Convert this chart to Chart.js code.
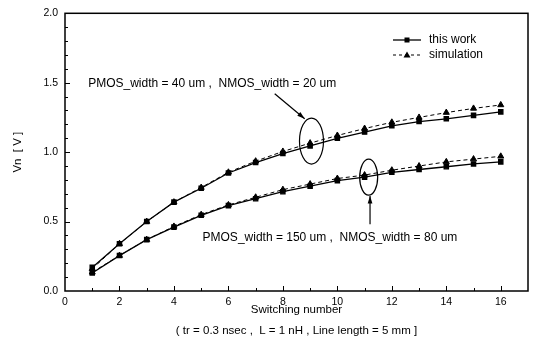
<!DOCTYPE html>
<html>
<head>
<meta charset="utf-8">
<script src="https://cdn.jsdelivr.net/npm/chart.js@4/dist/chart.umd.min.js"></script>
<style>
  html, body { margin: 0; padding: 0; background: #fff; }
  #wrap { width: 538px; height: 350px; }
</style>
</head>
<body>
<div id="wrap"><canvas id="vn-chart" width="538" height="350"></canvas></div>
<script>
// switching number (x)
const switchingNumbers = [1, 2, 3, 4, 5, 6, 7, 8, 9, 10, 11, 12, 13, 14, 15, 16];

// PMOS 40 um / NMOS 20 um
const workUpper = [0.17, 0.34, 0.50, 0.64, 0.74, 0.85, 0.925, 0.99, 1.045, 1.10, 1.145, 1.19, 1.22, 1.24, 1.265, 1.29];
const simUpper  = [0.16, 0.34, 0.50, 0.64, 0.745, 0.855, 0.935, 1.005, 1.065, 1.12, 1.17, 1.215, 1.25, 1.285, 1.315, 1.34];

// PMOS 150 um / NMOS 80 um
const workLower = [0.13, 0.255, 0.37, 0.46, 0.545, 0.615, 0.665, 0.715, 0.755, 0.795, 0.82, 0.855, 0.875, 0.895, 0.915, 0.93];
const simLower  = [0.135, 0.255, 0.37, 0.465, 0.55, 0.62, 0.675, 0.73, 0.77, 0.81, 0.835, 0.87, 0.9, 0.93, 0.95, 0.97];

const xTicks = [0, 2, 4, 6, 8, 10, 12, 14, 16];
const yTicks = [0.0, 0.5, 1.0, 1.5, 2.0];

const FONT = '"Liberation Sans", Arial, sans-serif';

function toPoints(ys) {
  return switchingNumbers.map((x, i) => ({ x: x, y: ys[i] }));
}

function workSet(ys) {
  return {
    label: 'this work',
    data: toPoints(ys),
    borderColor: '#000',
    backgroundColor: '#000',
    borderWidth: 1.3,
    pointStyle: 'rect',
    pointRadius: 3,
    showLine: true,
    tension: 0,
  };
}

function simSet(ys) {
  return {
    label: 'simulation',
    data: toPoints(ys),
    borderColor: '#000',
    backgroundColor: '#000',
    borderWidth: 1,
    borderDash: [4, 3],
    pointStyle: 'triangle',
    pointRadius: 3.5,
    showLine: true,
    tension: 0,
  };
}

// frame, inward ticks, legend and annotations
const decorPlugin = {
  id: 'decor',
  afterDraw(chart) {
    const ctx = chart.ctx;
    const area = chart.chartArea;
    const xs = chart.scales.x;
    const ys = chart.scales.y;

    ctx.save();
    ctx.strokeStyle = '#000';
    ctx.fillStyle = '#000';

    // box
    ctx.lineWidth = 1.5;
    ctx.strokeRect(area.left, area.top, area.right - area.left, area.bottom - area.top);

    // x ticks (pointing up)
    ctx.lineWidth = 1;
    for (let v = 1; v <= 16; v++) {
      const px = Math.round(xs.getPixelForValue(v)) + 0.5;
      const len = v % 2 === 0 ? 5 : 3;
      ctx.beginPath();
      ctx.moveTo(px, area.bottom);
      ctx.lineTo(px, area.bottom - len);
      ctx.stroke();
    }
    // y ticks (pointing right)
    for (let k = 1; k < 20; k++) {
      const py = Math.round(ys.getPixelForValue(k / 10)) + 0.5;
      const len = k % 5 === 0 ? 5 : 3;
      ctx.beginPath();
      ctx.moveTo(area.left, py);
      ctx.lineTo(area.left + len, py);
      ctx.stroke();
    }

    // legend
    ctx.font = '12px ' + FONT;
    ctx.textBaseline = 'middle';
    const lx = 393, lw = 28;
    let ly = 40;
    ctx.lineWidth = 1.3;
    ctx.setLineDash([]);
    ctx.beginPath();
    ctx.moveTo(lx, ly);
    ctx.lineTo(lx + lw, ly);
    ctx.stroke();
    ctx.fillRect(lx + lw / 2 - 2.5, ly - 2.5, 5, 5);
    ctx.fillText('this work', lx + lw + 8, ly);

    ly = 55;
    ctx.lineWidth = 1;
    ctx.setLineDash([3, 3]);
    ctx.beginPath();
    ctx.moveTo(lx, ly);
    ctx.lineTo(lx + lw, ly);
    ctx.stroke();
    ctx.setLineDash([]);
    ctx.beginPath();
    ctx.moveTo(lx + lw / 2, ly - 3.5);
    ctx.lineTo(lx + lw / 2 + 3.5, ly + 2.5);
    ctx.lineTo(lx + lw / 2 - 3.5, ly + 2.5);
    ctx.closePath();
    ctx.fill();
    ctx.fillText('simulation', lx + lw + 8, ly);

    // annotation texts
    ctx.textAlign = 'left';
    ctx.fillText('PMOS_width = 40 um ,  NMOS_width = 20 um', xs.getPixelForValue(0.85), ys.getPixelForValue(1.495));
    ctx.fillText('PMOS_width = 150 um ,  NMOS_width = 80 um', xs.getPixelForValue(5.05), ys.getPixelForValue(0.385));

    // ellipses
    ctx.lineWidth = 1.2;
    ctx.beginPath();
    ctx.ellipse(xs.getPixelForValue(9.05), ys.getPixelForValue(1.08), 12, 23, 0, 0, Math.PI * 2);
    ctx.stroke();
    ctx.beginPath();
    ctx.ellipse(xs.getPixelForValue(11.15), ys.getPixelForValue(0.82), 9, 18, 0, 0, Math.PI * 2);
    ctx.stroke();

    // arrows
    function arrow(x1, y1, x2, y2) {
      const a = Math.atan2(y2 - y1, x2 - x1);
      ctx.beginPath();
      ctx.moveTo(x1, y1);
      ctx.lineTo(x2, y2);
      ctx.stroke();
      ctx.beginPath();
      ctx.moveTo(x2, y2);
      ctx.lineTo(x2 - 8 * Math.cos(a - 0.3), y2 - 8 * Math.sin(a - 0.3));
      ctx.lineTo(x2 - 8 * Math.cos(a + 0.3), y2 - 8 * Math.sin(a + 0.3));
      ctx.closePath();
      ctx.fill();
    }
    ctx.lineWidth = 1.2;
    arrow(xs.getPixelForValue(7.7), ys.getPixelForValue(1.42), xs.getPixelForValue(8.8), ys.getPixelForValue(1.24));
    arrow(xs.getPixelForValue(11.2), ys.getPixelForValue(0.48), xs.getPixelForValue(11.2), ys.getPixelForValue(0.685));

    ctx.restore();
  }
};

new Chart(document.getElementById('vn-chart'), {
  type: 'scatter',
  data: {
    datasets: [workUpper, workLower].map(workSet).concat([simUpper, simLower].map(simSet)),
  },
  options: {
    responsive: false,
    animation: false,
    layout: { padding: { top: 12, right: 10, left: 0, bottom: 0 } },
    plugins: {
      legend: { display: false },
      tooltip: { enabled: false },
    },
    scales: {
      x: {
        type: 'linear',
        min: 0,
        max: 17,
        afterBuildTicks: (s) => { s.ticks = xTicks.map((v) => ({ value: v })); },
        afterFit: (s) => { s.height = 59; },
        grid: { display: false, drawTicks: false },
        border: { display: false },
        ticks: { color: '#000', font: { family: FONT, size: 10.5 }, padding: 5 },
        title: {
          display: true,
          text: ['Switching number', '( tr = 0.3 nsec ,  L = 1 nH , Line length = 5 mm ]'],
          color: '#000',
          font: { family: FONT, size: 11.5, lineHeight: 1.83 },
          padding: { top: 0, bottom: 9 },
        },
      },
      y: {
        min: 0,
        max: 2,
        afterBuildTicks: (s) => { s.ticks = yTicks.map((v) => ({ value: v })); },
        afterFit: (s) => { s.width = 65; },
        grid: { display: false, drawTicks: false },
        border: { display: false },
        ticks: {
          color: '#000',
          font: { family: FONT, size: 10.5 },
          padding: 7,
          callback: (v) => Number(v).toFixed(1),
        },
        title: {
          display: true,
          text: 'Vn  [ V ]',
          color: '#000',
          font: { family: FONT, size: 11.5 },
          padding: { top: 11, bottom: 0 },
        },
      },
    },
  },
  plugins: [decorPlugin],
});
</script>
</body>
</html>
